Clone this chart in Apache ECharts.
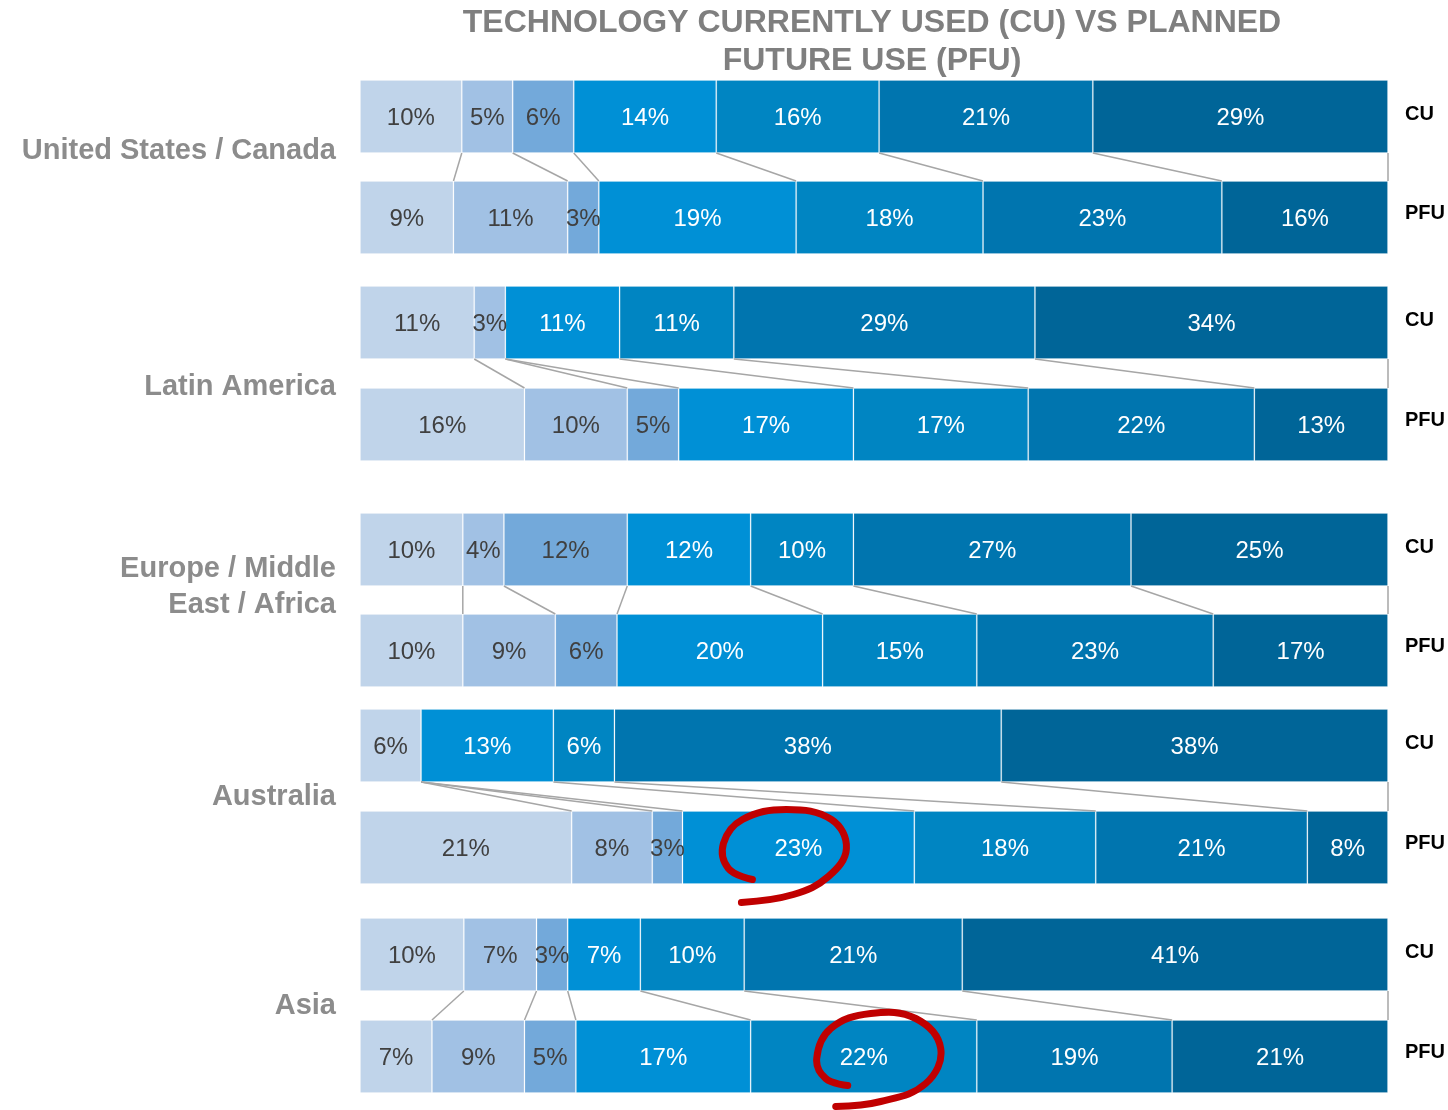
<!DOCTYPE html>
<html style="height: 100%">
<head>
    <meta charset="UTF-8">
    <title>Technology CU vs PFU</title>
    <script src="https://cdn.jsdelivr.net/npm/echarts/dist/echarts.min.js"></script>
</head>
<body style="height: 100%; margin: 0; background: #fff">
    <div id="main" style="width: 1448px; height: 1110px;"></div>
    <script>
        // data
        var regions = ['United States / Canada', 'Latin America', 'Europe / Middle\nEast / Africa', 'Australia', 'Asia'];
        var rowLabels = ['CU', 'PFU'];
        var cuValues = [
            [10, 5, 6, 14, 16, 21, 29],
            [11, 3, 0, 11, 11, 29, 34],
            [10, 4, 12, 12, 10, 27, 25],
            [6, 0, 0, 13, 6, 38, 38],
            [10, 7, 3, 7, 10, 21, 41]
        ];
        var pfuValues = [
            [9, 11, 3, 19, 18, 23, 16],
            [16, 10, 5, 17, 17, 22, 13],
            [10, 9, 6, 20, 15, 23, 17],
            [21, 8, 3, 23, 18, 21, 8],
            [7, 9, 5, 17, 22, 19, 21]
        ];
        // highlighted segments: [region, row, category]
        var circled = [[3, 1, 3], [4, 1, 4]];

        // layout / style
        var colors = ['#c0d4ea', '#a1c1e4', '#73a9da', '#0090d6', '#0085c2', '#0075af', '#006598'];
        var barTops = [[80, 181], [286, 388], [513, 614], [709, 811], [918, 1020]];
        var barH = 73;
        var regionLabelY = [151, 387, 587, 797, 1006];

        var myChart = echarts.init(document.getElementById('main'));

        var grids = [], xAxes = [], yAxes = [], series = [];
        var rows = [];
        regions.forEach(function (r, ri) {
            [cuValues[ri], pfuValues[ri]].forEach(function (vals, k) {
                rows.push({ values: vals, top: barTops[ri][k], label: rowLabels[k] });
            });
        });

        rows.forEach(function (row, gi) {
            grids.push({ left: 360, right: 60, top: row.top, height: barH });
            xAxes.push({ type: 'value', gridIndex: gi, min: 0, max: 100, show: false });
            yAxes.push({
                type: 'category', gridIndex: gi, data: [row.label], position: 'right',
                axisLine: { show: false }, axisTick: { show: false },
                axisLabel: { color: '#000', fontWeight: 'bold', fontSize: 20, margin: 17,
                    fontFamily: 'Liberation Sans, Arial', verticalAlign: 'bottom',
                    padding: [0, 0, row.label === 'CU' ? -8 : -6, 0] }
            });
            var sum = row.values.reduce(function (a, b) { return a + b; }, 0);
            row.values.forEach(function (v, ci) {
                series.push({
                    type: 'bar', xAxisIndex: gi, yAxisIndex: gi, stack: 's' + gi,
                    barWidth: '100%', silent: true,
                    itemStyle: { color: colors[ci], borderColor: 'rgba(255,255,255,0.18)', borderWidth: v ? 1 : 0 },
                    label: {
                        show: v > 0, position: 'inside', offset: [0, 2],
                        color: ci < 3 ? '#404040' : '#ffffff',
                        fontSize: 24, fontFamily: 'Liberation Sans, Arial',
                        formatter: function () { return v + '%'; }
                    },
                    data: [v / sum * 100]
                });
            });
        });

        myChart.setOption({
            animation: false,
            grid: grids,
            xAxis: xAxes,
            yAxis: yAxes,
            series: series
        });

        // title, region labels, connector lines, red loops
        var graphics = [];
        graphics.push({
            type: 'text', x: 872, y: 4,
            style: {
                text: 'TECHNOLOGY CURRENTLY USED (CU) VS PLANNED\nFUTURE USE (PFU)',
                textAlign: 'center', fill: '#7f7f7f', fontSize: 32, fontWeight: 'bold',
                fontFamily: 'Liberation Sans, Arial', lineHeight: 38
            }
        });
        regions.forEach(function (r, ri) {
            graphics.push({
                type: 'text', x: 336, y: regionLabelY[ri],
                style: {
                    text: r, textAlign: 'right', textVerticalAlign: 'middle',
                    fill: '#8c8c8c', fontSize: 29, fontWeight: 'bold',
                    fontFamily: 'Liberation Sans, Arial', lineHeight: 36
                }
            });
        });

        function cumulative(vals) {
            var sum = vals.reduce(function (a, b) { return a + b; }, 0);
            var acc = 0;
            return vals.map(function (v) { acc += v; return acc / sum * 100; });
        }

        regions.forEach(function (r, ri) {
            var cCU = cumulative(cuValues[ri]);
            var cPF = cumulative(pfuValues[ri]);
            for (var k = 0; k < cCU.length; k++) {
                var x1 = myChart.convertToPixel({ xAxisIndex: ri * 2 }, cCU[k]);
                var x2 = myChart.convertToPixel({ xAxisIndex: ri * 2 + 1 }, cPF[k]);
                graphics.push({
                    type: 'line', silent: true, z: 100,
                    shape: { x1: x1, y1: barTops[ri][0] + barH, x2: x2, y2: barTops[ri][1] },
                    style: { stroke: '#a6a6a6', lineWidth: 1.5 }
                });
            }
        });

        // hand-drawn loops, offsets from the segment centre
        var loops = [
            [[-46, 32], [-70, 21], [-75, -4], [-56, -28], [-12, -38], [33, -28], [48, 1], [30, 29], [-5, 47], [-57, 55]],
            [[-16, 29], [-38, 22], [-47, 2], [-33, -28], [7, -43], [52, -38], [77, -8], [62, 27], [17, 45], [-28, 50]]
        ];
        circled.forEach(function (c, i) {
            var gi = c[0] * 2 + c[1];
            var vals = c[1] === 0 ? cuValues[c[0]] : pfuValues[c[0]];
            var cum = cumulative(vals);
            var mid = (cum[c[2]] + (c[2] > 0 ? cum[c[2] - 1] : 0)) / 2;
            var pt = myChart.convertToPixel({ gridIndex: gi }, [mid, rowLabels[c[1]]]);
            graphics.push({
                type: 'polyline', silent: true, z: 200,
                shape: {
                    points: loops[i].map(function (p) { return [pt[0] + p[0], pt[1] + p[1]]; }),
                    smooth: 0.4
                },
                style: { stroke: '#c00000', lineWidth: 7, fill: null, lineCap: 'round', lineJoin: 'round' }
            });
        });

        myChart.setOption({ graphic: graphics });
    </script>
</body>
</html>
